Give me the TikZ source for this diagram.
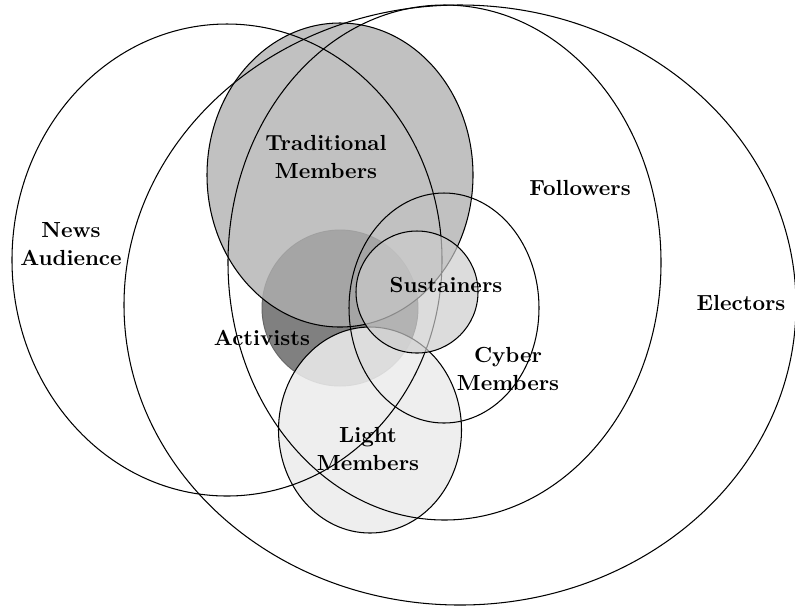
\documentclass[tikz,border=0pt]{standalone}
\begin{document}
\begin{tikzpicture}[x=0.476pt,y=-0.476pt,
  outline/.style={draw=black,line width=0.5pt},
  lbl/.style={font={\bfseries\fontsize{10.4}{13}\selectfont},align=center,inner sep=0pt}]
\useasboundingbox (0,0) rectangle (795,608);
% Activists (bottom layer, opaque)
\fill[black!50] (340,308) circle [radius=78];
\draw[black!60,line width=0.45pt] (340,308) circle [radius=78];
% Traditional Members
\filldraw[fill=black!31,fill opacity=0.79,outline] (340,175) ellipse [x radius=133,y radius=152];
% Light Members
\filldraw[fill=black!8,fill opacity=0.87,outline] (370,430) ellipse [x radius=91.5,y radius=103];
% News Audience, Followers, Electors
\draw[outline] (227,260) ellipse [x radius=215,y radius=236];
\draw[outline] (444.5,262.5) ellipse [x radius=216.5,y radius=257.5];
\draw[outline] (460,305) ellipse [x radius=336,y radius=300];
% Sustainers
\filldraw[fill=black!20,fill opacity=0.68,outline] (417,292) circle [radius=61];
% Cyber Members
\draw[outline] (444,308) ellipse [x radius=95,y radius=115];
% labels
\node[lbl] (trad) at (326,157) {Traditional\\Members};
\node[lbl] (news) at (71,244) {News\\Audience};
\node[lbl] (foll) at (580,188) {Followers};
\node[lbl] (elec) at (741,303) {Electors};
\node[lbl] (sust) at (446,285) {Sustainers};
\node[lbl] (acti) at (262,338) {Activists};
\node[lbl] (cyber) at (508,369) {Cyber\\Members};
\node[lbl] (light) at (368,449) {Light\\Members};
\end{tikzpicture}
\end{document}
